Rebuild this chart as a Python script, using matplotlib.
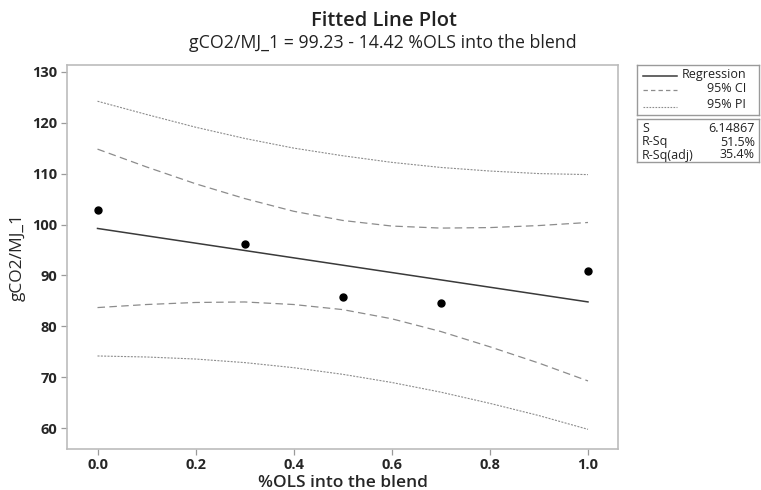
import matplotlib
matplotlib.use("Agg")
import matplotlib.pyplot as plt
from matplotlib.lines import Line2D
import numpy as np

plt.rcParams['font.family'] = ['Open Sans', 'DejaVu Sans']

# Observations
ols_share = [0.0, 0.3, 0.5, 0.7, 1.0]
gco2_mj = [102.8, 96.2, 85.7, 84.5, 90.9]

# Fitted equation coefficients
intercept = 99.23
slope = -14.42

# Confidence / prediction bands along the fitted range
band_x = [0.0, 0.1, 0.2, 0.3, 0.4, 0.5, 0.6, 0.7, 0.8, 0.9, 1.0]
ci_upper = [114.8, 111.3, 108.0, 105.1, 102.6, 100.8, 99.7, 99.3, 99.4, 99.8, 100.4]
ci_lower = [83.7, 84.3, 84.7, 84.8, 84.3, 83.3, 81.5, 79.0, 76.0, 72.8, 69.3]
pi_upper = [124.2, 121.6, 119.1, 116.9, 115.0, 113.5, 112.2, 111.2, 110.5, 110.0, 109.8]
pi_lower = [74.2, 74.0, 73.6, 72.9, 71.9, 70.6, 69.0, 67.1, 64.9, 62.5, 59.8]

# Summary statistics
stat_names = ["S", "R-Sq", "R-Sq(adj)"]
stat_values = ["6.14867", "51.5%", "35.4%"]

x_ticks = [0.0, 0.2, 0.4, 0.6, 0.8, 1.0]
y_ticks = [60, 70, 80, 90, 100, 110, 120, 130]

W, H = 761, 490
fig = plt.figure(figsize=(W / 100, H / 100), dpi=100)
fig.patch.set_facecolor("white")

def fbox(x0, y0, x1, y1):
    return [x0 / W, 1 - y1 / H, (x1 - x0) / W, (y1 - y0) / H]

ax = fig.add_axes(fbox(67.3, 64.7, 618.3, 448.7))

fit_x = np.array([band_x[0], band_x[-1]])
fit_y = intercept + slope * fit_x

line_col = "#3a3a3a"
band_col = "#8c8c8c"
text_col = "#262626"

ax.plot(fit_x, fit_y, color=line_col, lw=1.1, zorder=3)
ax.plot(band_x, ci_upper, color=band_col, lw=0.9, dashes=(6, 3.5))
ax.plot(band_x, ci_lower, color=band_col, lw=0.9, dashes=(6, 3.5))
ax.plot(band_x, pi_upper, color=band_col, lw=0.8, dashes=(1.8, 1.2))
ax.plot(band_x, pi_lower, color=band_col, lw=0.8, dashes=(1.8, 1.2))
ax.plot(ols_share, gco2_mj, 'o', color="black", ms=5, zorder=4)

ax.set_xlim(-0.0616, 1.0618)
ax.set_ylim(56.0, 131.37)
ax.set_xticks(x_ticks)
ax.set_xticklabels([f"{v:.1f}" for v in x_ticks])
ax.set_yticks(y_ticks)

for s in ax.spines.values():
    s.set_color("#bcbcbc")
    s.set_linewidth(1.2)
ax.tick_params(direction="out", length=4, width=0.9, color="#9a9a9a",
               labelcolor=text_col, labelsize=10.5, pad=3)
for lab in ax.get_xticklabels() + ax.get_yticklabels():
    lab.set_fontweight("bold")

ax.set_xlabel("%OLS into the blend", fontsize=12.5, fontweight="semibold",
              color=text_col, labelpad=2)
ax.set_ylabel("gCO2/MJ_1", fontsize=12.5, color=text_col, labelpad=5)

fig.text(0.505, 1 - 20.7 / H, "Fitted Line Plot", ha="center", va="center",
         fontsize=14.5, fontweight="semibold", color="#222222")
fig.text(0.503, 1 - 42.5 / H, "gCO2/MJ_1 = 99.23 - 14.42 %OLS into the blend",
         ha="center", va="center", fontsize=12.8, color="#222222")

# Legend box
lg = fig.add_axes(fbox(637, 65, 759, 115))
lg.set_xlim(637, 759)
lg.set_ylim(115, 65)
lg.set_xticks([]); lg.set_yticks([])
for s in lg.spines.values():
    s.set_color("#9a9a9a"); s.set_linewidth(1.0)
rows = [(74, "Regression", dict(color=line_col, lw=1.1)),
        (88.5, "95% CI", dict(color=band_col, lw=0.9, dashes=(3.5, 2.5))),
        (104.5, "95% PI", dict(color=band_col, lw=0.8, dashes=(1.5, 1.2)))]
for yy, txt, sty in rows:
    lg.add_line(Line2D([643, 677], [yy + 2, yy + 2], **sty))
    lg.text(746, yy, txt, ha="right", va="center", fontsize=9, color="#222222")

# Statistics box
sb = fig.add_axes(fbox(637, 119, 759, 162))
sb.set_xlim(637, 759)
sb.set_ylim(162, 119)
sb.set_xticks([]); sb.set_yticks([])
for s in sb.spines.values():
    s.set_color("#9a9a9a"); s.set_linewidth(1.0)
for yy, name, val in zip([128, 142, 155], stat_names, stat_values):
    sb.text(642, yy, name, ha="left", va="center", fontsize=9, color="#222222")
    sb.text(755, yy, val, ha="right", va="center", fontsize=9, color="#222222")

fig.savefig("out.png", dpi=100, facecolor="white")
